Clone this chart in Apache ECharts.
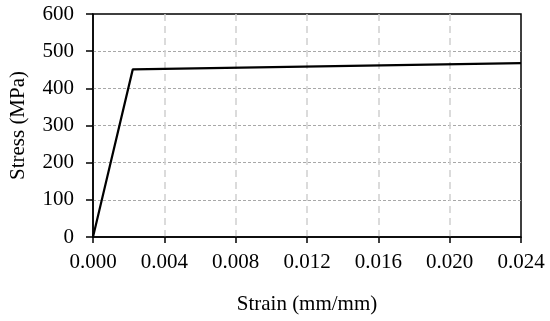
<!DOCTYPE html>
<html><head><meta charset="utf-8">
<script src="https://cdn.jsdelivr.net/npm/echarts@6/dist/echarts.min.js"></script>
<style>html,body{margin:0;padding:0;background:#fff}#c{width:550px;height:321px}</style>
</head><body><div id="c"></div>
<script>
var strain = [0, 0.00223, 0.024];
var stress = [0, 451, 468];
var xTicks = [0, 0.004, 0.008, 0.012, 0.016, 0.020, 0.024];
var yTicks = [0, 100, 200, 300, 400, 500, 600];
var font = 'Liberation Serif';
var chart = echarts.init(document.getElementById('c'), null, {renderer: 'canvas'});
chart.setOption({
  animation: false,
  grid: {left: 91, top: 14, right: 29, bottom: 84, show: true, borderColor: '#000', borderWidth: 1.5, backgroundColor: 'transparent'},
  xAxis: {
    type: 'value', min: 0, max: 0.024, interval: 0.004,
    name: 'Strain (mm/mm)', nameLocation: 'middle', nameGap: 57,
    nameTextStyle: {fontFamily: font, fontSize: 21, color: '#000'},
    axisLine: {show: true, lineStyle: {color: '#000', width: 1.5}},
    axisTick: {show: true, inside: false, length: 6, lineStyle: {color: '#000', width: 1.5}},
    axisLabel: {fontFamily: font, fontSize: 21, color: '#000', margin: 15, formatter: function(v){return v.toFixed(3);}},
    splitLine: {show: true, showMinLine: false, showMaxLine: false, lineStyle: {color: '#d0d0d0', type: [7, 5], width: 1.5}}
  },
  yAxis: {
    type: 'value', min: 0, max: 600, interval: 100,
    name: 'Stress (MPa)', nameLocation: 'middle', nameGap: 64, nameRotate: 90,
    nameTextStyle: {fontFamily: font, fontSize: 21, color: '#000'},
    axisLine: {show: true, lineStyle: {color: '#000', width: 1.5}},
    axisTick: {show: true, inside: false, length: 7, lineStyle: {color: '#000', width: 1.5}},
    axisLabel: {fontFamily: font, fontSize: 21, color: '#000', margin: 19},
    splitLine: {show: true, showMinLine: false, showMaxLine: false, lineStyle: {color: '#a8a8a8', type: [3, 2], width: 1}}
  },
  series: [{
    type: 'line', data: strain.map(function(x, i){return [x, stress[i]];}),
    showSymbol: false, lineStyle: {color: '#000', width: 2.2}
  }]
});
</script></body></html>
